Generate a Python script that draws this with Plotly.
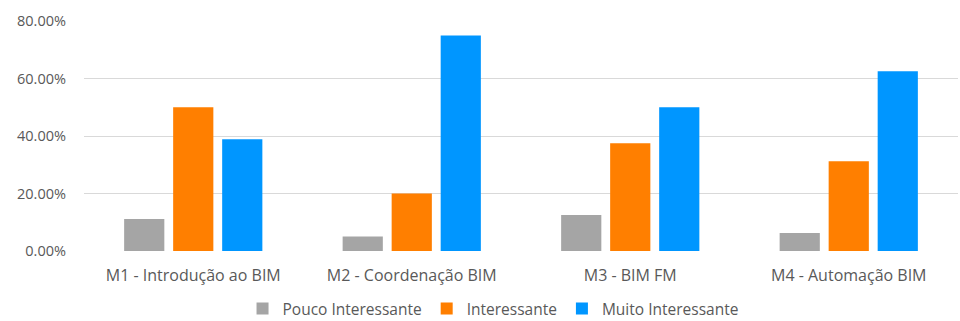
import plotly.graph_objects as go

categories = ["M1 - Introdução ao BIM", "M2 - Coordenação BIM", "M3 - BIM FM", "M4 - Automação BIM"]
pouco = [0.1111, 0.05, 0.125, 0.0625]
interessante = [0.50, 0.20, 0.375, 0.3125]
muito = [0.3889, 0.75, 0.50, 0.625]
series_names = ["Pouco Interessante", "Interessante", "Muito Interessante"]
colors = ["#A5A5A5", "#FF7F00", "#0096FF"]
tick_vals = [0, 0.2, 0.4, 0.6, 0.8]
tick_text = ["0.00%", "20.00%", "40.00%", "60.00%", "80.00%"]

font_family = "Open Sans, Noto Sans, sans-serif"
text_color = "#595959"

fig = go.Figure()
for name, vals, col in zip(series_names, [pouco, interessante, muito], colors):
    fig.add_trace(go.Bar(x=categories, y=vals, name=name, marker=dict(color=col, line=dict(width=0)),
                         hoverinfo="x+y"))

H = 321
top = 21
plot_h = H - top  # margin b = 0
axis_y = 251

fig.update_layout(
    width=960, height=H,
    margin=dict(l=84, r=2, t=top, b=0, autoexpand=False),
    barmode="group", bargap=0.327, bargroupgap=0.18,
    plot_bgcolor="white", paper_bgcolor="white",
    font=dict(family=font_family, size=16, color=text_color),
    showlegend=True,
    legend=dict(orientation="h", x=0.468, xanchor="center",
                y=(H - 309) / plot_h, yanchor="middle",
                font=dict(size=15.5, color=text_color)),
    xaxis=dict(showline=False, ticks="", showgrid=False,
               tickfont=dict(size=16, color=text_color), ticklabelstandoff=13),
    yaxis=dict(domain=[(H - axis_y) / plot_h, 1],
               range=[0, 0.8], tickvals=tick_vals, ticktext=tick_text, showgrid=True,
               gridcolor="#D9D9D9", gridwidth=1, zeroline=False, showline=False, ticks="",
               tickfont=dict(size=14.5, color=text_color), ticklabelstandoff=17),
)

fig.write_html("out.html")
